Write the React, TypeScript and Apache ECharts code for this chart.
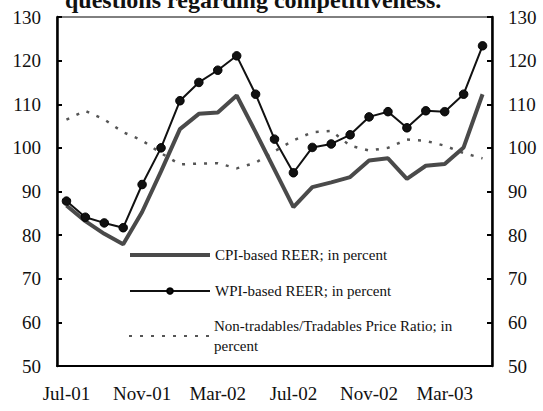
import React, { useEffect, useRef } from "react";
import * as echarts from "echarts";

const months = [
  "Jul-01", "Aug-01", "Sep-01", "Oct-01", "Nov-01", "Dec-01",
  "Jan-02", "Feb-02", "Mar-02", "Apr-02", "May-02", "Jun-02",
  "Jul-02", "Aug-02", "Sep-02", "Oct-02", "Nov-02", "Dec-02",
  "Jan-03", "Feb-03", "Mar-03", "Apr-03", "May-03",
];

const cpiReer = [
  86.8, 83.2, 80.3, 77.9, 85.3, 94.6, 104.3, 107.8, 108.1, 112.0, 103.6, 95.0,
  86.4, 91.0, 92.1, 93.3, 97.1, 97.6, 92.9, 95.9, 96.3, 100.1, 112.3,
];

const wpiReer = [
  87.8, 84.1, 82.8, 81.7, 91.6, 100.0, 110.8, 115.0, 117.8, 121.1, 112.3, 102.0,
  94.3, 100.1, 100.9, 103.0, 107.1, 108.3, 104.6, 108.5, 108.3, 112.3, 123.4,
];

const priceRatio = [
  106.5, 108.5, 106.5, 103.6, 101.7, 98.8, 96.2, 96.4, 96.5, 95.3, 96.6, 99.2,
  101.7, 103.6, 103.9, 100.5, 99.4, 100.0, 101.9, 101.6, 100.5, 98.8, 97.6,
];

const seriesNames = [
  "CPI-based REER; in percent",
  "WPI-based REER; in percent",
  "Non-tradables/Tradables Price Ratio; in\npercent",
];

const titleText = "questions regarding competitiveness.";

const FONT = "Liberation Serif, Times New Roman, serif";

export default function App() {
  const ref = useRef<HTMLDivElement>(null);

  useEffect(() => {
    if (!ref.current) return;
    const chart = echarts.init(ref.current, null, { renderer: "svg" });
    const yAxisBase = {
      type: "value",
      min: 50,
      max: 130,
      interval: 10,
      splitLine: { show: false },
      axisLine: { show: true, lineStyle: { color: "#000", width: 2.5 } },
      axisTick: { show: true, inside: true, length: 5, lineStyle: { color: "#000", width: 2 } },
      axisLabel: { color: "#111", fontFamily: FONT, fontSize: 19, margin: 16 },
    };
    chart.setOption({
      animation: false,
      backgroundColor: "#fff",
      title: {
        text: titleText,
        left: 60,
        top: -17,
        textStyle: { fontFamily: FONT, fontSize: 24, fontWeight: "bold", color: "#111" },
      },
      grid: {
        left: 57,
        right: 51,
        top: 17,
        bottom: 45,
        show: true,
        borderColor: "#000",
        borderWidth: 1,
        containLabel: false,
      },
      legend: [
        {
          orient: "vertical",
          left: 123,
          top: 241,
          itemWidth: 80,
          itemHeight: 7,
          itemGap: 18,
          data: [
            {
              name: seriesNames[0],
              itemStyle: { opacity: 0 },
              lineStyle: { width: 4, color: "#4a4a4a" },
            },
            { name: seriesNames[1], lineStyle: { width: 2, color: "#111" } },
          ],
          textStyle: { fontFamily: FONT, fontSize: 15, color: "#111", lineHeight: 18 },
        },
        {
          orient: "vertical",
          left: 123,
          top: 301,
          itemWidth: 80,
          itemHeight: 9,
          data: [{ name: seriesNames[2], itemStyle: { opacity: 0 } }],
          textStyle: {
            fontFamily: FONT,
            fontSize: 15,
            color: "#111",
            lineHeight: 20,
            padding: [20, 0, 0, 0],
          },
        },
      ],
      xAxis: {
        type: "category",
        data: months,
        boundaryGap: true,
        axisLine: { show: true, lineStyle: { color: "#000", width: 2 } },
        axisTick: { show: false },
        axisLabel: {
          interval: 3,
          color: "#111",
          fontFamily: FONT,
          fontSize: 19,
          margin: 18,
        },
      },
      yAxis: [
        { ...yAxisBase, position: "left" },
        { ...yAxisBase, position: "right" },
      ],
      series: [
        {
          name: seriesNames[0],
          type: "line",
          data: cpiReer,
          yAxisIndex: 0,
          symbol: "none",
          lineStyle: { color: "#4a4a4a", width: 4 },
          itemStyle: { color: "#4a4a4a" },
          z: 3,
        },
        {
          name: seriesNames[1],
          type: "line",
          data: wpiReer,
          yAxisIndex: 0,
          symbol: "circle",
          symbolSize: 8.5,
          lineStyle: { color: "#111", width: 2 },
          itemStyle: { color: "#111", borderColor: "#000", borderWidth: 1 },
          z: 4,
        },
        {
          name: seriesNames[2],
          type: "line",
          data: priceRatio,
          yAxisIndex: 0,
          symbol: "none",
          lineStyle: { color: "#555", width: 2.5, type: [3, 8] },
          itemStyle: { color: "#555" },
          z: 2,
        },
      ],
    });
    return () => chart.dispose();
  }, []);

  return (
    <div
      ref={ref}
      style={{ position: "fixed", left: 0, top: 0, width: 543, height: 411, background: "#fff" }}
    />
  );
}
